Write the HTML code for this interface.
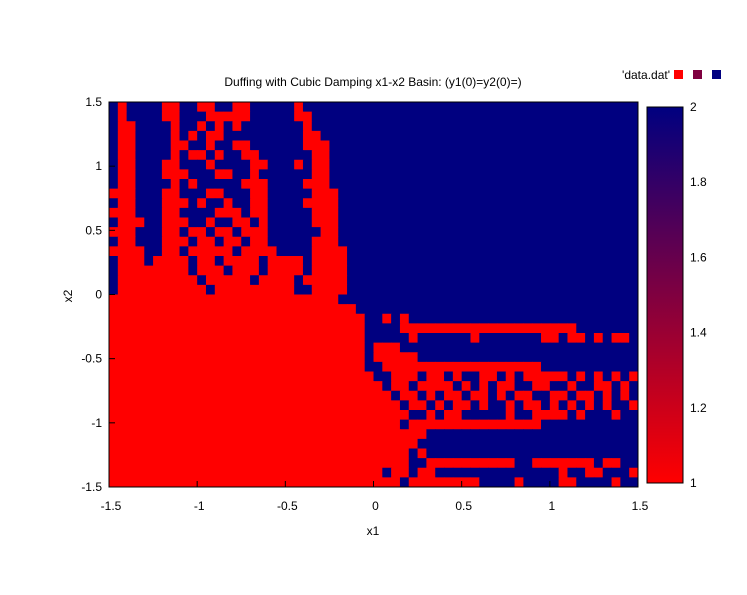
<!DOCTYPE html>
<html><head><meta charset="utf-8"><style>
html,body{margin:0;padding:0;background:#fff;}
svg text{font-family:"Liberation Sans",sans-serif;font-size:12px;fill:#000;}
</style></head><body>
<svg id="chart" width="747" height="590" viewBox="0 0 747 590" xmlns="http://www.w3.org/2000/svg">
<text x="373" y="86" text-anchor="middle">Duffing with Cubic Damping x1-x2 Basin: (y1(0)=y2(0)=)</text>
<g>
<text x="670" y="79" text-anchor="end">'data.dat'</text>
<rect x="674" y="70" width="9" height="9" fill="#ff0000"/>
<rect x="693" y="70" width="9" height="9" fill="#7f0040"/>
<rect x="712" y="70" width="9" height="9" fill="#000080"/>
</g>
<g id="cells"></g>
<rect x="109" y="102" width="529" height="385" fill="none" stroke="#000" stroke-width="1"/>
<g id="ticks"></g>
<text x="373" y="535" text-anchor="middle">x1</text>
<text x="72" y="296" text-anchor="middle" transform="rotate(-90 72 296)">x2</text>
<defs><linearGradient id="cb" x1="0" y1="1" x2="0" y2="0">
<stop offset="0" stop-color="#ff0000"/><stop offset="0.5" stop-color="#800040"/><stop offset="1" stop-color="#000080"/></linearGradient></defs>
<rect x="647" y="107" width="36" height="376" fill="url(#cb)" stroke="#000"/>
<g id="cbticks"></g>
</svg>
<script>
const xTicks = [-1.5,-1,-0.5,0,0.5,1,1.5];
const yTicks = [-1.5,-1,-0.5,0,0.5,1,1.5];
const cbTicks = [1,1.2,1.4,1.6,1.8,2];
const xMin=-1.5, xMax=1.5, yMin=-1.5, yMax=1.5;
const A="1111111111", B="1111111112", Z="2222222222";
const gridRows = [
"2122221122"+"1122112222"+"2122222222"+Z+Z+Z,
"2122221122"+"2111112222"+"2112222222"+Z+Z+Z,
"2112222122"+"1212122222"+"2212222222"+Z+Z+Z,
"2112222121"+"2112222222"+"2211222222"+Z+Z+Z,
"2112222112"+"2122112222"+"2211122222"+Z+Z+Z,
"2112222121"+"1212211222"+"2221122222"+Z+Z+Z,
"2112221122"+"2122221122"+"2121122222"+Z+Z+Z,
"2112221112"+"2211221222"+"2221122222"+Z+Z+Z,
"2112222121"+"2222211122"+"2211122222"+Z+Z+Z,
"1112221122"+"2112221122"+"2221112222"+Z+Z+Z,
"2112221112"+"1221221122"+"2211112222"+Z+Z+Z,
"1112221122"+"2211121122"+"2221112222"+Z+Z+Z,
"2111221112"+"2122112122"+"2221112222"+Z+Z+Z,
"1112221121"+"1211211122"+"2222112222"+Z+Z+Z,
"2112221112"+"1121121122"+"2221112222"+Z+Z+Z,
"1111221121"+"1111211112"+"2221111222"+Z+Z+Z,
"2111211112"+"1121111211"+"1121111222"+Z+Z+Z,
"2111111112"+"1112111211"+"1121111222"+Z+Z+Z,
"2111111111"+"2111112111"+"1211111222"+Z+Z+Z,
"2111111111"+"1211111111"+"1221111222"+Z+Z+Z,
A+A+"1111112222"+Z+Z+Z,
A+A+"1111111122"+Z+Z+Z,
A+A+B+"2121222222"+Z+Z,
A+A+B+"2221111111"+"1111111111"+"1112222222",
A+A+B+"2222122222"+"2122222221"+"1211212112",
A+A+B+"1112222222"+Z+Z,
A+A+B+"1111122222"+Z+Z,
A+A+B+"2111111111"+"1111111112"+Z,
A+A+A+"2211121121"+"2211212111"+"1121212121",
A+A+A+"1211211112"+"1212112211"+"2212211212",
A+A+A+"1121121211"+"2112121122"+"1121121212",
A+A+A+"1112112121"+"1212212112"+"1212121221",
A+A+A+"1111221211"+"2222212211"+"1121222122",
A+A+A+"1112111111"+"1111111112"+Z,
A+A+A+"1111112222"+Z+Z,
A+A+A+"1111122222"+Z+Z,
A+A+A+"1111212222"+Z+Z,
A+A+A+"1111221111"+"1111112211"+"1111121122",
A+A+A+"1211211222"+Z+"2122112221",
A+A+A+"1112111111"+"1122221222"+"2112222122"
];
const PX0=109, PX1=638, PY0=102, PY1=487;
function xs(v){return PX0+(v-xMin)/(xMax-xMin)*(PX1-PX0);}
function ys(v){return PY1-(v-yMin)/(yMax-yMin)*(PY1-PY0);}
function color(v){return v<=1?"#ff0000":(v>=2?"#000080":"#800040");}
const NS="http://www.w3.org/2000/svg";
const cells=document.getElementById("cells");
const nRows=gridRows.length, nCols=gridRows[0].length;
const dx=(xMax-xMin)/nCols, dy=(yMax-yMin)/nRows;
for(let r=0;r<nRows;r++){for(let c=0;c<nCols;c++){
  const v=+gridRows[r][c];
  const x0=xs(xMin+c*dx), x1=xs(xMin+(c+1)*dx), y0=ys(yMax-r*dy), y1=ys(yMax-(r+1)*dy);
  const el=document.createElementNS(NS,"rect");
  el.setAttribute("x",x0);el.setAttribute("y",y0);
  el.setAttribute("width",x1-x0+0.5);el.setAttribute("height",y1-y0+0.5);
  el.setAttribute("fill",color(v));
  
  
  cells.appendChild(el);
}}
const tg=document.getElementById("ticks");
xTicks.forEach(t=>{
  const X=xs(t);
  const l=document.createElementNS(NS,"line");
  l.setAttribute("x1",X);l.setAttribute("x2",X);l.setAttribute("y1",PY1);l.setAttribute("y2",PY1-6);l.setAttribute("stroke","#000");
  
  
  tg.appendChild(l);
  const tx=document.createElementNS(NS,"text");
  tx.setAttribute("x",X+2);tx.setAttribute("y",510);tx.setAttribute("text-anchor","middle");tx.textContent=t;
  
  
  tg.appendChild(tx);
});
yTicks.forEach(t=>{
  const Y=ys(t);
  const l=document.createElementNS(NS,"line");
  l.setAttribute("x1",PX0);l.setAttribute("x2",PX0+6);l.setAttribute("y1",Y);l.setAttribute("y2",Y);l.setAttribute("stroke","#000");
  
  
  tg.appendChild(l);
  const tx=document.createElementNS(NS,"text");
  tx.setAttribute("x",102);tx.setAttribute("y",Y+4);tx.setAttribute("text-anchor","end");tx.textContent=t;
  
  
  tg.appendChild(tx);
});
const cg=document.getElementById("cbticks");
cbTicks.forEach(t=>{
  const Y=483-(t-1)*376;
  const tx=document.createElementNS(NS,"text");
  tx.setAttribute("x",690);tx.setAttribute("y",Y+4);tx.textContent=t;
  
  
  cg.appendChild(tx);
});
</script>
</body></html>
